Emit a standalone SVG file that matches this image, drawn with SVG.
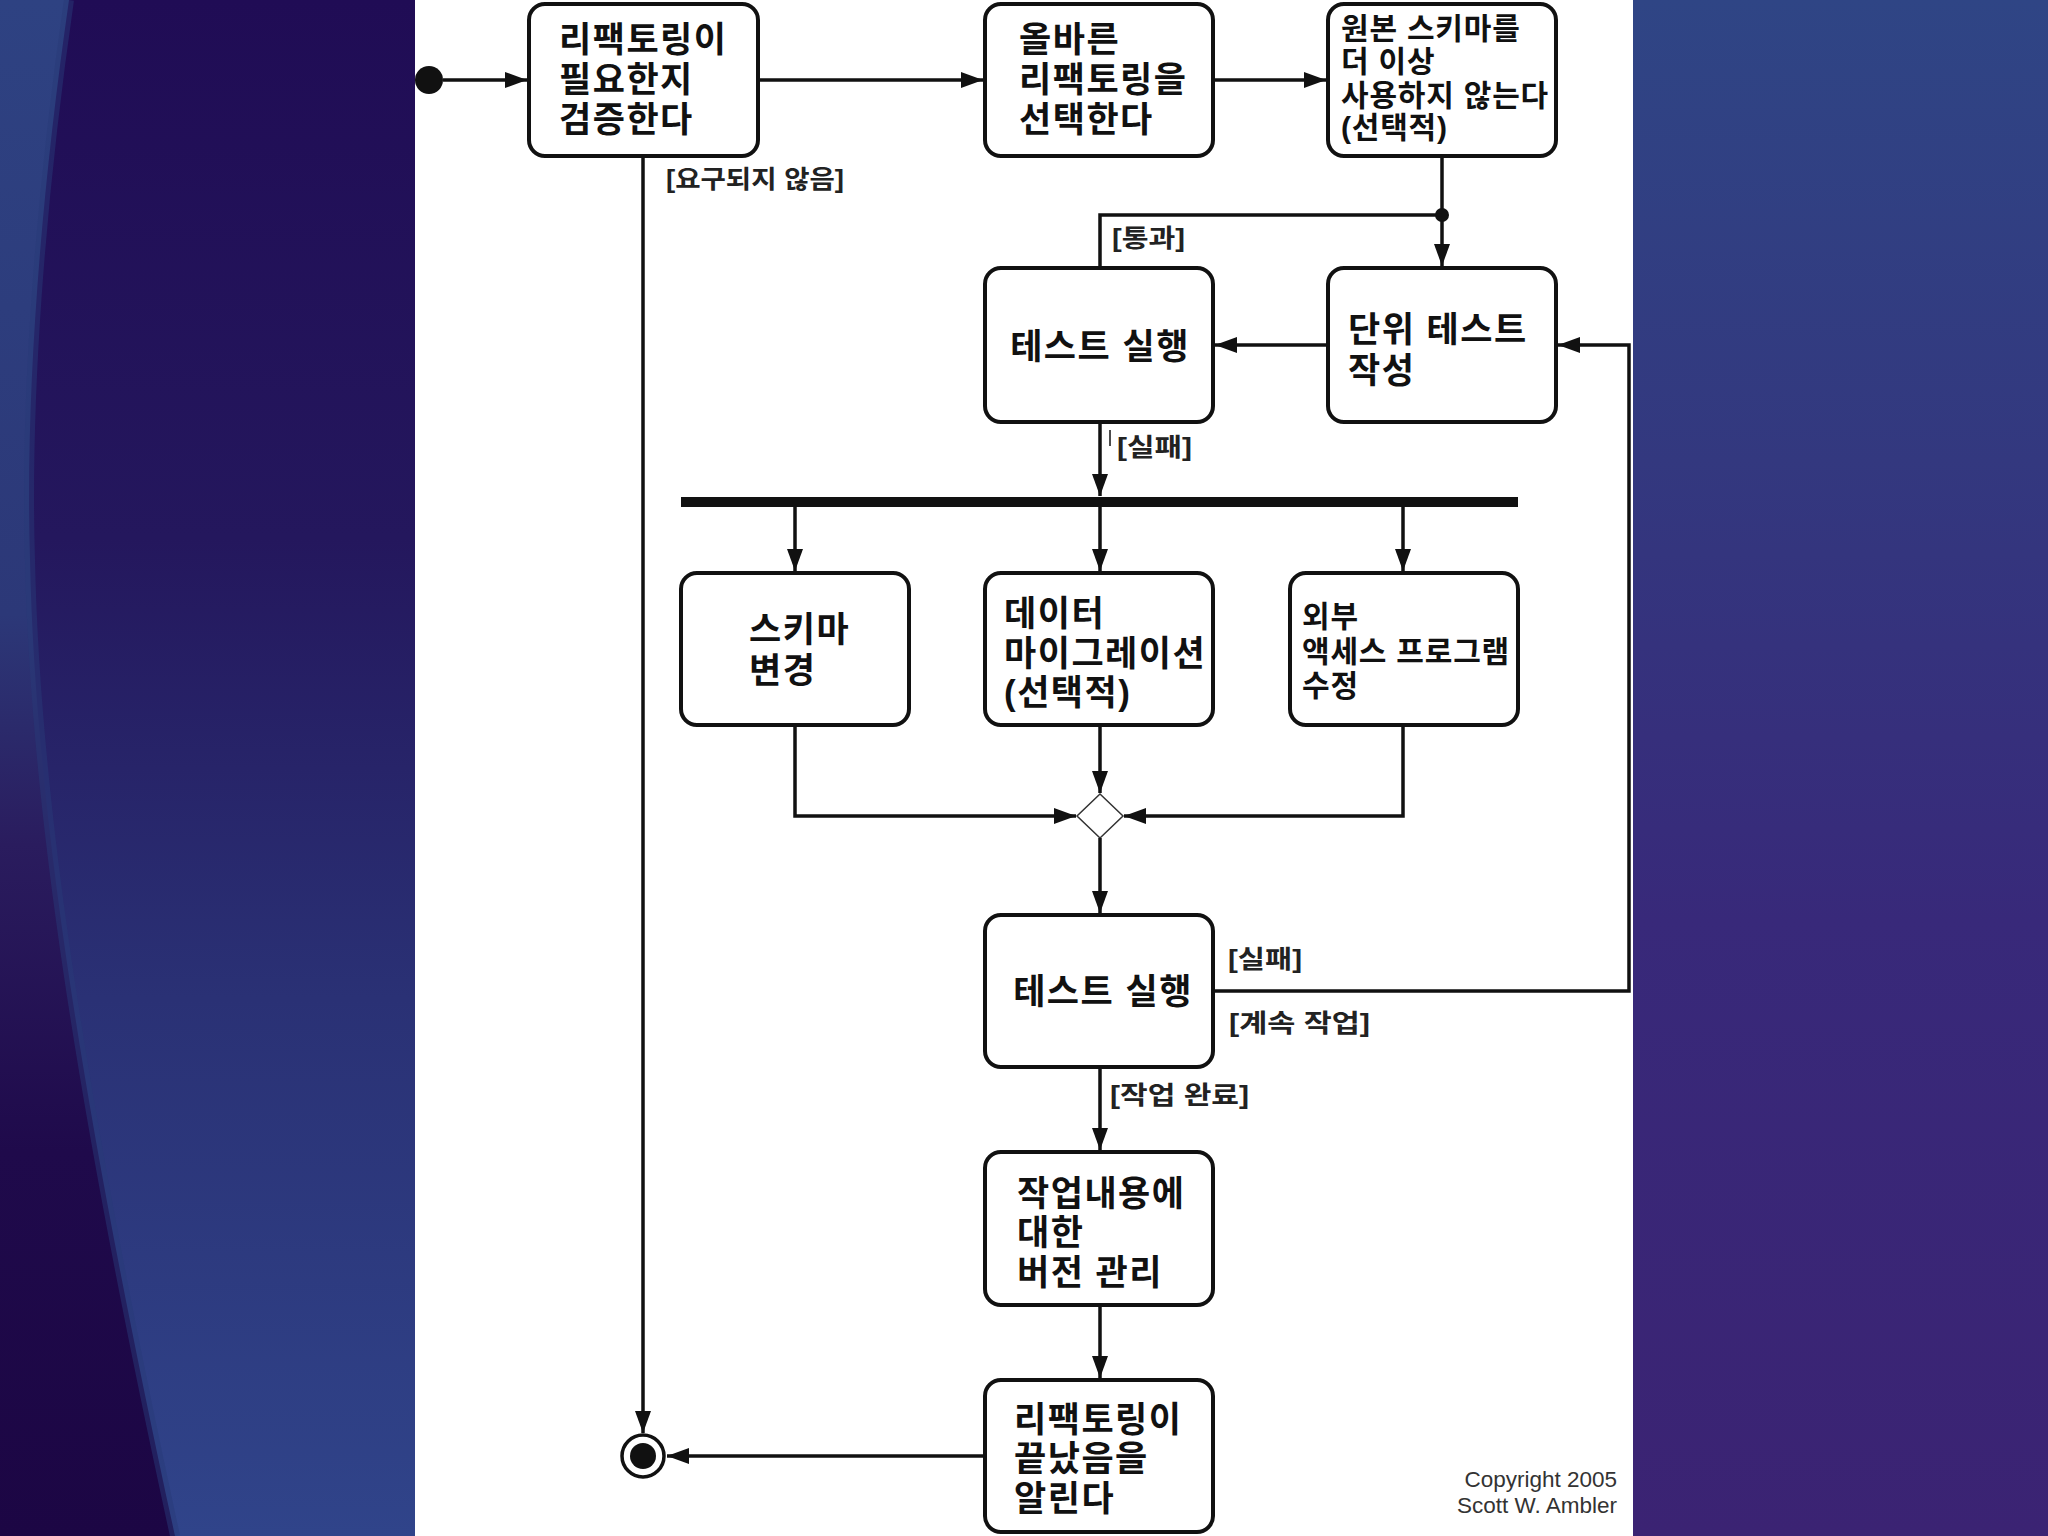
<svg xmlns="http://www.w3.org/2000/svg" width="2048" height="1536" viewBox="0 0 2048 1536">
<defs>
<linearGradient id="gB" x1="0" y1="0" x2="0" y2="1">
<stop offset="0" stop-color="#200c55"/>
<stop offset="0.35" stop-color="#24175d"/>
<stop offset="0.65" stop-color="#2a3175"/>
<stop offset="1" stop-color="#30448a"/>
</linearGradient>
<linearGradient id="gA" x1="0" y1="0" x2="0" y2="1">
<stop offset="0" stop-color="#2e4282"/>
<stop offset="0.4" stop-color="#2c3878"/>
<stop offset="0.55" stop-color="#2a1c5e"/>
<stop offset="0.75" stop-color="#1f0a4b"/>
<stop offset="1" stop-color="#1c0644"/>
</linearGradient>
<linearGradient id="gR" x1="0" y1="0" x2="0" y2="1">
<stop offset="0" stop-color="#2f4585"/>
<stop offset="0.3" stop-color="#33387f"/>
<stop offset="0.6" stop-color="#38297a"/>
<stop offset="1" stop-color="#3b2373"/>
</linearGradient>
<marker id="arr" markerUnits="userSpaceOnUse" markerWidth="24" markerHeight="16" refX="22" refY="8" orient="auto">
<path d="M0,0 L22,8 L0,16 Z" fill="#111"/>
</marker>
<style>
.box { fill:#ffffff; stroke:#111; stroke-width:4; }
.nt { font-family:"Liberation Sans","Noto Sans CJK KR",sans-serif; font-weight:700; font-size:35px; letter-spacing:1.5px; fill:#111; }
.ns { font-size:30px; letter-spacing:0.8px; }
.lbl { font-family:"Liberation Sans","Noto Sans CJK KR",sans-serif; font-weight:700; font-size:25px; fill:#222; }
.conn { fill:none; stroke:#111; stroke-width:3.5; }
.copy { font-family:"Liberation Sans",Arial,sans-serif; font-size:22.5px; fill:#333; text-anchor:end; }
</style>
</defs>

<!-- background -->
<rect x="0" y="0" width="2048" height="1536" fill="#2a2a70"/>
<rect x="0" y="0" width="416" height="1536" fill="url(#gB)"/>
<path d="M0,0 L69,0 C40,200 25,400 30,560 C35,800 80,1100 175,1536 L0,1536 Z" fill="url(#gA)"/>
<path d="M69,0 C40,200 25,400 30,560 C35,800 80,1100 175,1536" fill="none" stroke="#283a78" stroke-width="10" opacity="0.5"/>
<rect x="1632" y="0" width="416" height="1536" fill="url(#gR)"/>
<rect x="415" y="0" width="1218" height="1536" fill="#ffffff"/>

<!-- connectors -->
<g id="connectors">
<circle cx="429" cy="80" r="14" fill="#111"/>
<path class="conn" d="M443,80 H527" marker-end="url(#arr)"/>
<path class="conn" d="M758,80 H983" marker-end="url(#arr)"/>
<path class="conn" d="M1213,80 H1326" marker-end="url(#arr)"/>
<path class="conn" d="M1442,156 V266" marker-end="url(#arr)"/>
<circle cx="1442" cy="215" r="7" fill="#111"/>
<path class="conn" d="M1100,268 V215 H1442"/>
<path class="conn" d="M1328,345 H1215" marker-end="url(#arr)"/>
<path class="conn" d="M1100,422 V496" marker-end="url(#arr)"/>
<line x1="1110" y1="430" x2="1110" y2="446" stroke="#111" stroke-width="1.5"/>
<rect x="681" y="497" width="837" height="10" fill="#111"/>
<path class="conn" d="M795,507 V571" marker-end="url(#arr)"/>
<path class="conn" d="M1100,507 V571" marker-end="url(#arr)"/>
<path class="conn" d="M1403,507 V571" marker-end="url(#arr)"/>
<path class="conn" d="M795,725 V816 H1076" marker-end="url(#arr)"/>
<path class="conn" d="M1100,725 V793" marker-end="url(#arr)"/>
<path class="conn" d="M1403,725 V816 H1124" marker-end="url(#arr)"/>
<polygon points="1100,794 1123,816 1100,838 1077,816" fill="#fff" stroke="#333" stroke-width="1.5"/>
<path class="conn" d="M1100,838 V913" marker-end="url(#arr)"/>
<path class="conn" d="M1214,991 H1629 V345 H1558" marker-end="url(#arr)"/>
<path class="conn" d="M1100,1067 V1150" marker-end="url(#arr)"/>
<path class="conn" d="M1100,1305 V1378" marker-end="url(#arr)"/>
<path class="conn" d="M985,1456 H667" marker-end="url(#arr)"/>
<path class="conn" d="M643,156 V1433" marker-end="url(#arr)"/>
<text class="lbl" x="666" y="188" textLength="178" lengthAdjust="spacingAndGlyphs">[요구되지 않음]</text>
<text class="lbl" x="1112" y="247" textLength="73" lengthAdjust="spacingAndGlyphs">[통과]</text>
<text class="lbl" x="1117" y="456" textLength="75" lengthAdjust="spacingAndGlyphs">[실패]</text>
<text class="lbl" x="1228" y="968" textLength="74" lengthAdjust="spacingAndGlyphs">[실패]</text>
<text class="lbl" x="1229" y="1032" textLength="141" lengthAdjust="spacingAndGlyphs">[계속 작업]</text>
<text class="lbl" x="1110" y="1104" textLength="139" lengthAdjust="spacingAndGlyphs">[작업 완료]</text>
</g>

<g id="final">
<circle cx="643" cy="1456" r="21" fill="#fff" stroke="#111" stroke-width="3.5"/>
<circle cx="643" cy="1456" r="13" fill="#111"/>
</g>

<g id="n1">
<rect class="box" x="529" y="4" width="229" height="152" rx="16"/>
<text class="nt"><tspan x="559" y="52">리팩토링이</tspan><tspan x="559" y="92">필요한지</tspan><tspan x="559" y="132">검증한다</tspan></text>
</g>
<g id="n2">
<rect class="box" x="985" y="4" width="228" height="152" rx="16"/>
<text class="nt"><tspan x="1019" y="52">올바른</tspan><tspan x="1019" y="92">리팩토링을</tspan><tspan x="1019" y="132">선택한다</tspan></text>
</g>
<g id="n3">
<rect class="box" x="1328" y="4" width="228" height="152" rx="16"/>
<text class="nt ns"><tspan x="1341" y="39">원본 스키마를</tspan><tspan x="1341" y="72">더 이상</tspan><tspan x="1341" y="106">사용하지 않는다</tspan><tspan x="1341" y="138">(선택적)</tspan></text>
</g>
<g id="n4">
<rect class="box" x="985" y="268" width="228" height="154" rx="16"/>
<text class="nt" x="1100" y="359" text-anchor="middle">테스트 실행</text>
</g>
<g id="n5">
<rect class="box" x="1328" y="268" width="228" height="154" rx="16"/>
<text class="nt"><tspan x="1348" y="342">단위 테스트</tspan><tspan x="1348" y="383">작성</tspan></text>
</g>
<g id="n6">
<rect class="box" x="681" y="573" width="228" height="152" rx="16"/>
<text class="nt"><tspan x="749" y="642">스키마</tspan><tspan x="749" y="683">변경</tspan></text>
</g>
<g id="n7">
<rect class="box" x="985" y="573" width="228" height="152" rx="16"/>
<text class="nt"><tspan x="1004" y="626">데이터</tspan><tspan x="1004" y="666">마이그레이션</tspan><tspan x="1004" y="705">(선택적)</tspan></text>
</g>
<g id="n8">
<rect class="box" x="1290" y="573" width="228" height="152" rx="16"/>
<text class="nt ns"><tspan x="1302" y="627">외부</tspan><tspan x="1302" y="662">액세스 프로그램</tspan><tspan x="1302" y="696">수정</tspan></text>
</g>
<g id="n9">
<rect class="box" x="985" y="915" width="228" height="152" rx="16"/>
<text class="nt" x="1103" y="1004" text-anchor="middle">테스트 실행</text>
</g>
<g id="n10">
<rect class="box" x="985" y="1152" width="228" height="153" rx="16"/>
<text class="nt"><tspan x="1017" y="1206">작업내용에</tspan><tspan x="1017" y="1245">대한</tspan><tspan x="1017" y="1285">버전 관리</tspan></text>
</g>
<g id="n11">
<rect class="box" x="985" y="1380" width="228" height="152" rx="16"/>
<text class="nt"><tspan x="1014" y="1432">리팩토링이</tspan><tspan x="1014" y="1471">끝났음을</tspan><tspan x="1014" y="1511">알린다</tspan></text>
</g>

<g id="copyright">
<text class="copy" x="1617" y="1487">Copyright 2005</text>
<text class="copy" x="1617" y="1513">Scott W. Ambler</text>
</g>
</svg>
